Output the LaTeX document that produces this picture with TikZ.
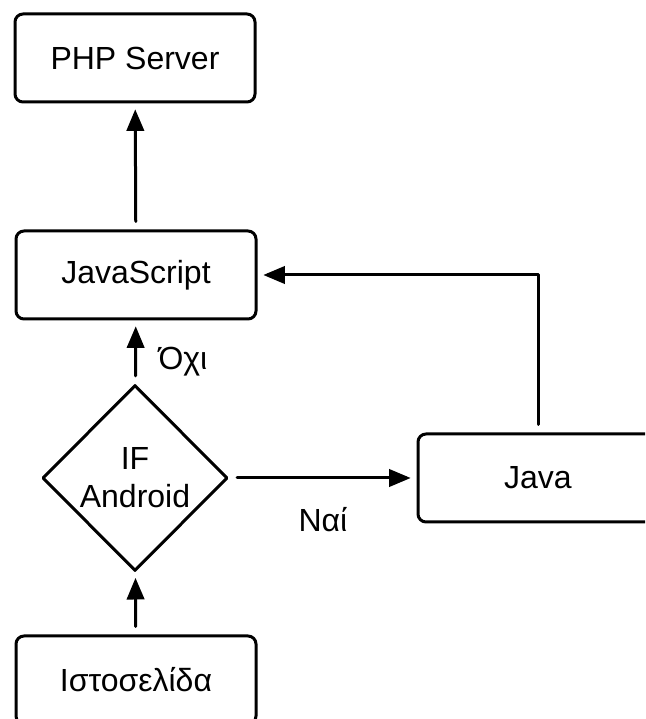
\documentclass[tikz,border=0pt]{standalone}
\usepackage{fontspec}
\setmainfont{Liberation Sans}
\usetikzlibrary{arrows,shapes.geometric}

\begin{document}
\begin{tikzpicture}[line cap=round,line join=round,>=triangle 45,x=0.5pt,y=0.5pt,
  box/.style={draw,line width=1.5pt,rounded corners=4pt,minimum width=120pt,minimum height=44pt,font=\fontsize{16}{19}\selectfont},
  test/.style={draw,diamond,line width=1.5pt,minimum width=92.5pt,minimum height=93pt,inner sep=0pt,align=center,font=\fontsize{16}{19}\selectfont},
  lbl/.style={font=\fontsize{16}{19}\selectfont},
  flow/.style={->,line width=1.5pt,shorten >=3pt,shorten <=4pt}]
\useasboundingbox (0,0) rectangle (645,719);
\clip (0,0) rectangle (645,719);
\node [box] (php) at (135,661) {PHP Server};
\node [box] (js) at (136,444) {JavaScript};
\node [test] (if) at (135,241) {IF\\Android};
\node [box] (java) at (538,241) {Java};
\node [box] (web) at (136,39) {Ιστοσελίδα};
\node [lbl] (no) at (183,357) {Όχι};
\node [lbl] (yes) at (323,199) {Ναί};
\draw [flow] (web) -- (if);
\draw [flow] (if) -- (js);
\draw [flow] (js) -- (php);
\draw [flow] (if) -- (java);
\draw [flow] (java.north) |- (js.east);
\end{tikzpicture}
\end{document}
